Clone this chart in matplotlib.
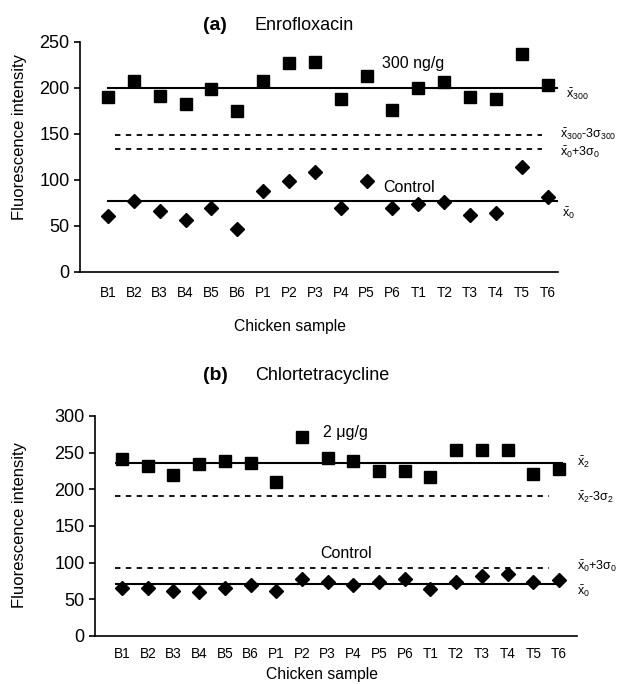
import matplotlib
matplotlib.use("Agg")
import matplotlib.pyplot as plt

plt.rcParams['font.family'] = ['Liberation Sans', 'DejaVu Sans']
plt.rcParams['mathtext.fontset'] = 'custom'
plt.rcParams['mathtext.rm'] = 'Liberation Sans'
plt.rcParams['mathtext.it'] = 'Liberation Sans'

samples = ["B1", "B2", "B3", "B4", "B5", "B6", "P1", "P2", "P3", "P4", "P5", "P6",
           "T1", "T2", "T3", "T4", "T5", "T6"]

# Panel (a) Enrofloxacin
enro_300 = [190, 208, 191, 183, 199, 175, 208, 227, 228, 188, 213, 176,
            200, 206, 190, 188, 237, 203]
enro_ctrl = [61, 77, 66, 56, 70, 47, 88, 99, 109, 70, 99, 70,
             74, 76, 62, 64, 114, 81]
enro_mean300 = 200
enro_lim300 = 148.6
enro_lim0 = 133.8
enro_mean0 = 77.6

# Panel (b) Chlortetracycline
ctc_2 = [242, 232, 220, 234, 239, 236, 210, 272, 243, 239, 225, 225,
         217, 254, 254, 254, 221, 228]
ctc_ctrl = [65, 65, 62, 60, 65, 70, 62, 78, 73, 70, 74, 78,
            64, 73, 82, 84, 73, 76]
ctc_mean2 = 236.4
ctc_lim2 = 190.5
ctc_lim0 = 93.2
ctc_mean0 = 71.4

W, H = 621, 684
fig = plt.figure(figsize=(W / 100, H / 100), dpi=100)

def px(x, y):
    return x / W, 1 - y / H

x = list(range(len(samples)))

def style_axes(ax, ymax, ystep, pad):
    ax.spines['top'].set_visible(False)
    ax.spines['right'].set_visible(False)
    ax.spines['left'].set_linewidth(1.2)
    ax.spines['bottom'].set_linewidth(1.2)
    ax.set_ylim(0, ymax)
    ax.set_yticks(range(0, ymax + 1, ystep))
    ax.tick_params(axis='y', labelsize=13, length=4, width=1.2, direction='out')
    ax.tick_params(axis='x', labelsize=9.8, length=0, pad=pad)
    ax.set_xticks(x)
    ax.set_xticklabels(samples)

# ---- Panel (a)
axa = fig.add_axes([80 / W, 1 - 272 / H, (558 - 80) / W, (272 - 42) / H])
axa.set_xlim(-1.08, 17.4)
style_axes(axa, 250, 50, 10)
axa.plot(x, enro_300, 's', color='black', ms=8)
axa.plot(x, enro_ctrl, 'D', color='black', ms=6.8)
axa.hlines([enro_mean300, enro_mean0], -0.05, 17.4, colors='black', lw=1.5)
axa.hlines([enro_lim300, enro_lim0], 0.27, 16.8, colors='black', lw=1.3,
           linestyles=(0, (3, 3)))
axa.text(11.8, 227, "300 ng/g", fontsize=11.5, ha='center', va='center')
axa.text(11.66, 92, "Control", fontsize=11.5, ha='center', va='center')

fig.text(*px(203, 25), "(a)", fontsize=14, fontweight='bold', va='center')
fig.text(*px(255, 25), "Enrofloxacin", fontsize=13, va='center')
fig.text(*px(20, 137), "Fluorescence intensity", fontsize=12, rotation=90,
         ha='center', va='center')
fig.text(*px(290, 326), "Chicken sample", fontsize=11.3, ha='center', va='center')

fig.text(*px(566, 94), r"$\bar{\mathrm{x}}_{300}$", fontsize=9, va='center')
fig.text(*px(560, 134), r"$\bar{\mathrm{x}}_{300}$-3$\sigma_{300}$", fontsize=9, va='center')
fig.text(*px(560, 152), r"$\bar{\mathrm{x}}_{0}$+3$\sigma_{0}$", fontsize=9, va='center')
fig.text(*px(562, 213), r"$\bar{\mathrm{x}}_{0}$", fontsize=9, va='center')

# ---- Panel (b)
axb = fig.add_axes([95 / W, 1 - 636 / H, (577 - 95) / W, (636 - 416) / H])
axb.set_xlim(-1.05, 17.7)
style_axes(axb, 300, 50, 8)
axb.plot(x, ctc_2, 's', color='black', ms=8)
axb.plot(x, ctc_ctrl, 'D', color='black', ms=6.8)
axb.hlines([ctc_mean2, ctc_mean0], -0.26, 17.16, colors='black', lw=1.5)
axb.hlines([ctc_lim2, ctc_lim0], -0.26, 16.6, colors='black', lw=1.3,
           linestyles=(0, (3, 3)))
axb.text(8.7, 277, "2 μg/g", fontsize=11.5, ha='center', va='center')
axb.text(8.7, 113, "Control", fontsize=11.5, ha='center', va='center')

fig.text(*px(203, 376), "(b)", fontsize=14, fontweight='bold', va='center')
fig.text(*px(255, 376), "Chlortetracycline", fontsize=13, va='center')
fig.text(*px(20, 525), "Fluorescence intensity", fontsize=12, rotation=90,
         ha='center', va='center')
fig.text(*px(322, 675), "Chicken sample", fontsize=11.3, ha='center', va='center')

fig.text(*px(577, 462), r"$\bar{\mathrm{x}}_{2}$", fontsize=9, va='center')
fig.text(*px(577, 497), r"$\bar{\mathrm{x}}_{2}$-3$\sigma_{2}$", fontsize=9, va='center')
fig.text(*px(577, 566), r"$\bar{\mathrm{x}}_{0}$+3$\sigma_{0}$", fontsize=9, va='center')
fig.text(*px(577, 591), r"$\bar{\mathrm{x}}_{0}$", fontsize=9, va='center')

fig.savefig("out.png", dpi=100)
